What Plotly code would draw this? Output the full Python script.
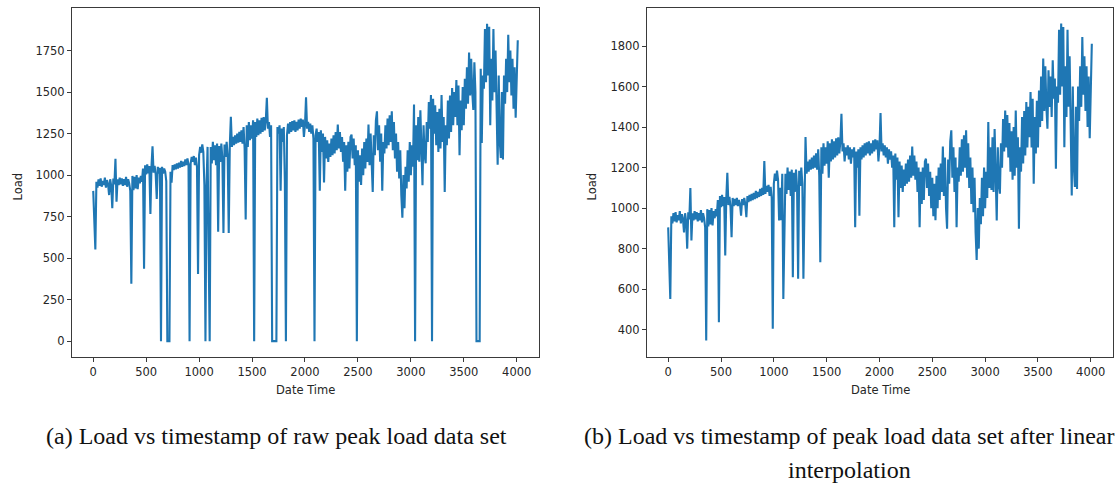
import plotly.graph_objects as go

# ---- data ----
step = 10  # time-index spacing of the sampled points
load_interp = [
    # 0-190
    905, 690, 552, 960, 925, 975, 935, 980, 930, 965, 940, 985, 925, 970, 945, 880, 975, 935, 800, 980,
    # 200-390
    945, 1099, 840, 975, 940, 985, 945, 980, 935, 975, 940, 990, 930, 975, 950, 905, 346, 995, 910, 990,
    # 400-590
    920, 1000, 915, 985, 950, 995, 960, 1040, 436, 1060, 1005, 1065, 1010, 1055, 766, 1050, 1174, 1015, 1055, 1005,
    # 600-790
    856, 1050, 1010, 1045, 1015, 1050, 1010, 1040, 1020, 963, 1045, 1015, 1050, 1020, 955, 1060, 1030, 1065, 1035, 1070,
    # 800-990
    1040, 1075, 1045, 1085, 1050, 1080, 1055, 1095, 1060, 1100, 1065, 1232, 1070, 1110, 1080, 1115, 1060, 1105, 1050, 404,
    # 1000-1190
    1120, 1170, 1135, 1185, 1140, 939, 1100, 940, 1170, 552, 824, 1170, 1070, 1200, 1090, 1180, 1060, 1190, 659, 1175,
    # 1200-1390
    1080, 1190, 1100, 651, 1185, 1110, 1200, 1120, 651, 1180, 1351, 1170, 1230, 1180, 1240, 1190, 1250, 1195, 1260, 1200,
    # 1400-1590
    1270, 1190, 1290, 1160, 733, 1300, 1170, 1320, 1210, 1300, 1220, 1330, 1150, 1320, 1230, 1340, 1240, 1330, 1250, 1345,
    # 1600-1790
    1260, 1350, 1270, 1330, 1466, 1280, 1320, 1230, 1300, 1260, 1310, 1240, 1300, 1220, 1290, 1250, 1300, 906, 1280, 1200,
    # 1800-1990
    1290, 963, 1300, 1240, 1310, 1250, 1320, 1260, 1325, 1270, 1330, 1260, 1320, 1270, 1335, 1280, 1340, 1290, 1335, 1230,
    # 2000-2190
    1300, 1469, 1280, 1320, 1260, 1310, 1250, 1300, 1220, 1290, 1240, 1280, 1200, 1260, 906, 1270, 1140, 1250, 955, 1230,
    # 2200-2390
    1100, 1210, 1080, 1190, 1110, 1220, 1120, 1240, 1130, 1260, 1150, 1304, 1160, 1260, 1140, 1230, 1080, 1200, 906, 1180,
    # 2400-2590
    1020, 1200, 1040, 1230, 1244, 1100, 1220, 1060, 1180, 1000, 1150, 960, 1120, 940, 1160, 1000, 1200, 1040, 1220, 1080,
    # 2600-2790
    1304, 1060, 1250, 1000, 898, 1240, 1120, 1330, 1384, 1150, 1300, 1080, 1250, 906, 1200, 1130, 1300, 1160, 1340, 1180,
    # 2800-2990
    1360, 1200, 1384, 1150, 1320, 1100, 1250, 1020, 1200, 980, 1150, 880, 744, 1000, 800, 1050, 920, 1150, 960, 1200,
    # 3000-3190
    1000, 1180, 1050, 1425, 1100, 1300, 1090, 1350, 1080, 1390, 1100, 939, 1300, 1120, 1071, 1320, 1200, 1440, 1280, 1482,
    # 3200-3390
    1300, 1460, 1250, 1420, 1180, 1380, 1140, 1400, 1160, 1482, 1200, 1350, 898, 1300, 1180, 1450, 1220, 1480, 1260, 1524,
    # 3400-3590
    1300, 1500, 1350, 1573, 1300, 1540, 1120, 1450, 1270, 1530, 1300, 1580, 1400, 1650, 1430, 1738, 1480, 1700, 1500, 1392,
    # 3600-3790
    1680, 1500, 1650, 1450, 1730, 1540, 1640, 1194, 1600, 1520, 1880, 1560, 1911, 1600, 1894, 1301, 1700, 1450, 1880, 1500,
    # 3800-3990
    1750, 1350, 1062, 1600, 1200, 1104, 1500, 1094, 1600, 1430, 1700, 1500, 1845, 1560, 1750, 1480, 1700, 1400, 1650, 1345,
    # 4000-4010
    1600, 1812,
]
# time indices where the raw data set recorded zero load
zero_times = [640, 700, 710, 720, 910, 1060, 1100, 1520, 1690, 1700, 1710, 1720, 1730,
              1820, 2090, 2490, 3040, 3200, 3620, 3630, 3640, 3650]

x_ticks = [0, 500, 1000, 1500, 2000, 2500, 3000, 3500, 4000]
y_ticks_raw = [0, 250, 500, 750, 1000, 1250, 1500, 1750]
y_ticks_interp = [400, 600, 800, 1000, 1200, 1400, 1600, 1800]

caption_a = "(a) Load vs timestamp of raw peak load data set"
caption_b1 = "(b) Load vs timestamp of peak load data set after linear"
caption_b2 = "interpolation"

# ---- build series ----
times = [i * step for i in range(len(load_interp))]
zero_set = set(zero_times)
load_raw = [0 if t in zero_set else v for t, v in zip(times, load_interp)]

line_color = "#1f77b4"
fig = go.Figure()
fig.add_trace(go.Scatter(x=times, y=load_raw, mode="lines",
                         line=dict(color=line_color, width=2.1), xaxis="x", yaxis="y",
                         showlegend=False, hoverinfo="skip"))
fig.add_trace(go.Scatter(x=times, y=load_interp, mode="lines",
                         line=dict(color=line_color, width=2.1), xaxis="x2", yaxis="y2",
                         showlegend=False, hoverinfo="skip"))

W, H = 1118, 487
tickfont = dict(family="DejaVu Sans", size=11.5, color="#262626")
common_axis = dict(showline=True, linecolor="#3a3a3a", linewidth=1, mirror=True,
                   ticks="outside", ticklen=4, tickwidth=1, tickcolor="#3a3a3a",
                   showgrid=False, zeroline=False, tickfont=tickfont)

y_dom = [1 - 357 / H, 1 - 8 / H]
fig.update_layout(
    width=W, height=H, margin=dict(l=0, r=0, t=0, b=0),
    paper_bgcolor="white", plot_bgcolor="white",
    xaxis=dict(domain=[72 / W, 539 / W], range=[-200.5, 4210.5], tickvals=x_ticks,
               anchor="y", **common_axis),
    yaxis=dict(domain=y_dom, range=[-95.5, 2006.5], tickvals=y_ticks_raw,
               anchor="x", **common_axis),
    xaxis2=dict(domain=[647 / W, 1113 / W], range=[-200.5, 4210.5], tickvals=x_ticks,
                anchor="y2", **common_axis),
    yaxis2=dict(domain=y_dom, range=[265, 1988], tickvals=y_ticks_interp,
                anchor="x2", **common_axis),
)

lab_font = dict(family="DejaVu Sans", size=11.5, color="#262626")
cap_font = dict(family="Liberation Serif", size=24, color="#111111")
ann = [
    dict(text="Date Time", x=305.5 / W, y=1 - 390 / H, font=lab_font),
    dict(text="Date Time", x=880 / W, y=1 - 390 / H, font=lab_font),
    dict(text="Load", x=17.5 / W, y=1 - 187 / H, font=lab_font, textangle=-90),
    dict(text="Load", x=591.5 / W, y=1 - 187 / H, font=lab_font, textangle=-90),
    dict(text=caption_a, x=276 / W, y=1 - 436 / H, font=cap_font),
    dict(text=caption_b1, x=849 / W, y=1 - 436 / H, font=cap_font),
    dict(text=caption_b2, x=849 / W, y=1 - 470 / H, font=cap_font),
]
for a in ann:
    fig.add_annotation(xref="paper", yref="paper", showarrow=False,
                       xanchor="center", yanchor="middle", **a)

fig.write_html("out.html")
